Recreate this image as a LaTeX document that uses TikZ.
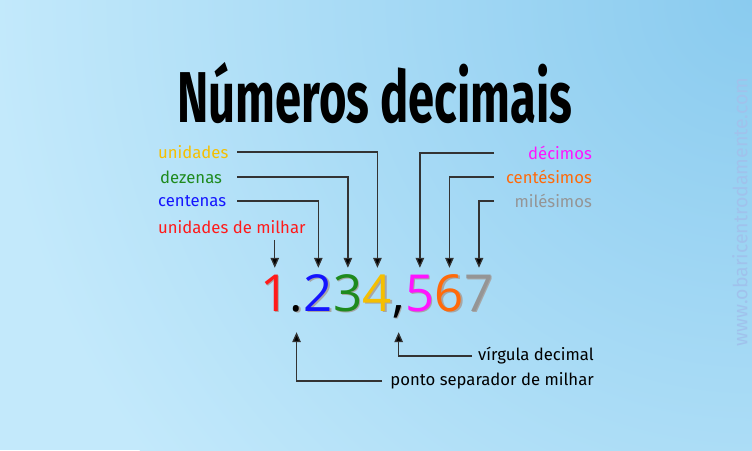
\documentclass[tikz,border=0pt]{standalone}
\usepackage{fontspec}
\setmainfont{Fira Sans}
\newfontfamily\titlefont[FakeStretch=0.655]{Fira Sans}
\newfontfamily\digitfont{Open Sans}
\usetikzlibrary{positioning,arrows.meta}
\definecolor{bgdark}{HTML}{8ACBEF}
\definecolor{bglight}{HTML}{C3E9FB}
\definecolor{unidcol}{HTML}{F5BF00}
\definecolor{dezcol}{HTML}{1E8A1E}
\definecolor{centcol}{HTML}{1414FF}
\definecolor{milcol}{HTML}{FF1A1A}
\definecolor{decicol}{HTML}{FF14FF}
\definecolor{centsicol}{HTML}{FF6A0A}
\definecolor{milsicol}{HTML}{959595}
\definecolor{sitecol}{HTML}{A0C2EC}
\newcommand\shadowed[1]{\makebox[0pt][l]{\hspace{1.5pt}\raisebox{-1.5pt}{\color{black!35}#1}}#1}
\begin{document}
\begin{tikzpicture}[x=1pt, y=-1pt,
    lbl/.style={font=\fontsize{16.7}{19}\selectfont, inner sep=0pt},
    dig/.style={font=\digitfont\fontsize{51}{58}\selectfont, inner sep=0pt, text height=43pt, text depth=21pt},
    pointer/.style={draw=black!80, line width=1.3pt, -{Triangle[length=10pt, width=8.5pt, fill=black]}}
  ]
  \begin{scope}
    \clip (0,0) rectangle (752,450);
    \fill[bglight] (0,0) rectangle (752,450);
    \shade[inner color=bgdark, outer color=bglight] (752,0) circle (760);
  \end{scope}
  \node[font=\titlefont\bfseries\fontsize{72}{80}\selectfont, text=black] (title) at (375,93) {Números decimais};

  \node[lbl, anchor=west, text=unidcol] (unid) at (158,152) {unidades};
  \node[lbl, anchor=west, text=dezcol] (dez) at (160,177) {dezenas};
  \node[lbl, anchor=west, text=centcol] (cent) at (158,201) {centenas};
  \node[lbl, anchor=west, text=milcol] (milh) at (158,227) {unidades de milhar};
  \node[lbl, anchor=east, text=decicol] (deci) at (592,153) {décimos};
  \node[lbl, anchor=east, text=centsicol] (centsi) at (592,177) {centésimos};
  \node[lbl, anchor=east, text=milsicol] (milsi) at (592,201) {milésimos};
  \node[lbl, anchor=east] (virg) at (594,356) {vírgula decimal};
  \node[lbl, anchor=east] (ponto) at (594,381) {ponto separador de milhar};

  \node[dig, anchor=base west, text=milcol] (d1) at (260,311) {\shadowed{1}};
  \node[dig, base right=0pt of d1] (dot) {\shadowed{.}};
  \node[dig, base right=0pt of dot, text=centcol] (d2) {\shadowed{2}};
  \node[dig, base right=0pt of d2, text=dezcol] (d3) {\shadowed{3}};
  \node[dig, base right=0pt of d3, text=unidcol] (d4) {\shadowed{4}};
  \node[dig, base right=0pt of d4] (comma) {\shadowed{,}};
  \node[dig, base right=0pt of comma, text=decicol] (d5) {\shadowed{5}};
  \node[dig, base right=0pt of d5, text=centsicol] (d6) {\shadowed{6}};
  \node[dig, base right=0pt of d6, text=milsicol] (d7) {\shadowed{7}};

  \coordinate (lx) at (237,0);
  \coordinate (rx) at (494,0);
  \draw[pointer] (lx |- unid.east) -| (d4.north);
  \draw[pointer] (lx |- dez.east) -| (d3.north);
  \draw[pointer] (lx |- cent.east) -| (d2.north);
  \draw[pointer, shorten <=6pt] (d1.north |- milh.south) -- (d1.north);
  \draw[pointer] (rx |- deci.west) -| (d5.north);
  \draw[pointer] (rx |- centsi.west) -| (d6.north);
  \draw[pointer] (rx |- milsi.west) -| (d7.north);
  \draw[pointer] ([xshift=-6pt]virg.west) -| (comma.south);
  \draw[pointer] ([xshift=-8pt]ponto.west) -| (dot.south);

  \node[rotate=90, text=sitecol, font=\fontsize{19.5}{22}\selectfont] (site) at (740,212) {www.obaricentrodamente.com};
\end{tikzpicture}
\end{document}
